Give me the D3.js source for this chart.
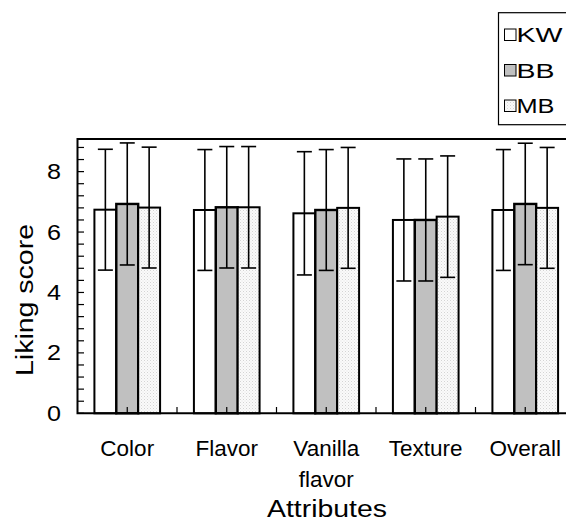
<!DOCTYPE html>
<html>
<head>
<meta charset="utf-8">
<script src="https://cdn.jsdelivr.net/npm/d3@7"></script>
<style>
  body { margin: 0; background: #fff; }
  text { font-family: Arial, "Liberation Sans", sans-serif; fill: #000; }
</style>
</head>
<body>
<div class="chart-container"></div>
<script>
const attributes = ["Color", "Flavor", "Vanilla flavor", "Texture", "Overall"];
const samples = ["KW", "BB", "MB"];
const meanKW = [6.74, 6.73, 6.62, 6.40, 6.73];
const meanBB = [6.93, 6.82, 6.73, 6.40, 6.93];
const meanMB = [6.81, 6.82, 6.80, 6.51, 6.80];
const sdKW = [2.0, 2.0, 2.04, 2.02, 2.0];
const sdBB = [2.02, 2.01, 2.0, 2.02, 2.01];
const sdMB = [2.0, 2.01, 2.0, 2.01, 2.0];
const yTickLabels = [0, 2, 4, 6, 8];

const means = { KW: meanKW, BB: meanBB, MB: meanMB };
const sds = { KW: sdKW, BB: sdBB, MB: sdMB };

const width = 566, height = 524;
const svg = d3.select(".chart-container")
  .append("svg")
  .attr("width", width)
  .attr("height", height);

// light dotted fill for MB
const defs = svg.append("defs");
const pat = defs.append("pattern")
  .attr("id", "dots")
  .attr("width", 3).attr("height", 3)
  .attr("patternUnits", "userSpaceOnUse");
pat.append("rect").attr("width", 3).attr("height", 3).attr("fill", "#fafafa");
pat.append("rect").attr("width", 1).attr("height", 1).attr("fill", "#d4d4d4");
pat.append("rect").attr("x", 1.5).attr("y", 1.5).attr("width", 1).attr("height", 1).attr("fill", "#e2e2e2");

const fills = { KW: "#ffffff", BB: "#c0c0c0", MB: "url(#dots)" };

const x0 = d3.scaleBand()
  .domain(attributes)
  .range([77.5, 575])
  .paddingInner(0.34)
  .paddingOuter(0.17);

const x1 = d3.scaleBand()
  .domain(samples)
  .range([0, x0.bandwidth()]);

const y = d3.scaleLinear()
  .domain([0, 9.08])
  .range([413.3, 139]);

const rows = [];
attributes.forEach((a, i) => {
  samples.forEach(s => rows.push({ attr: a, sample: s, mean: means[s][i], sd: sds[s][i] }));
});

// bars
svg.append("g")
  .selectAll("rect")
  .data(rows)
  .join("rect")
  .attr("x", d => x0(d.attr) + x1(d.sample))
  .attr("y", d => y(d.mean))
  .attr("width", x1.bandwidth())
  .attr("height", d => y(0) - y(d.mean))
  .attr("fill", d => fills[d.sample])
  .attr("stroke", "#000")
  .attr("stroke-width", d => d.sample == "BB" ? 2.4 : 2);

// error bars
const err = svg.append("g").attr("stroke", "#000").attr("stroke-width", 1.6);
const cx = d => x0(d.attr) + x1(d.sample) + x1.bandwidth() / 2;
err.selectAll("line.v")
  .data(rows)
  .join("line")
  .attr("class", "v")
  .attr("x1", cx).attr("x2", cx)
  .attr("y1", d => y(d.mean + d.sd))
  .attr("y2", d => y(d.mean - d.sd));
err.selectAll("line.top")
  .data(rows)
  .join("line")
  .attr("class", "top")
  .attr("x1", d => cx(d) - 7.5).attr("x2", d => cx(d) + 7.5)
  .attr("y1", d => y(d.mean + d.sd)).attr("y2", d => y(d.mean + d.sd));
err.selectAll("line.bot")
  .data(rows)
  .join("line")
  .attr("class", "bot")
  .attr("x1", d => cx(d) - 7.5).attr("x2", d => cx(d) + 7.5)
  .attr("y1", d => y(d.mean - d.sd)).attr("y2", d => y(d.mean - d.sd));

// y axis: inside ticks every 0.4
const minor = d3.range(0, 9.0, 0.4);
svg.append("g")
  .selectAll("line")
  .data(minor)
  .join("line")
  .attr("x1", 77.5).attr("x2", 84)
  .attr("y1", d => y(d)).attr("y2", d => y(d))
  .attr("stroke", "#000").attr("stroke-width", 1.2);

svg.append("g")
  .selectAll("text")
  .data(yTickLabels)
  .join("text")
  .attr("x", 61)
  .attr("y", d => y(d))
  .attr("dy", "0.35em")
  .attr("text-anchor", "end")
  .attr("textLength", 14)
  .attr("lengthAdjust", "spacingAndGlyphs")
  .style("font-size", "21.5px")
  .text(d => d);

// x axis ticks: group centers and boundaries
const xt = [];
attributes.forEach(a => {
  xt.push(x0(a) + x0.bandwidth() / 2);
  xt.push(x0(a) + x0.step() * (1 - 0.17) );
});
svg.append("g")
  .selectAll("line")
  .data(xt)
  .join("line")
  .attr("x1", d => d).attr("x2", d => d)
  .attr("y1", 413.3).attr("y2", 407)
  .attr("stroke", "#000").attr("stroke-width", 1.2);

// frame (left, top, bottom)
svg.append("path")
  .attr("d", `M${x0.range()[1]},${y(9.08)}H77.5V${y(0)}H${x0.range()[1]}`)
  .attr("fill", "none")
  .attr("stroke", "#000")
  .attr("stroke-width", 2);

// category labels
svg.append("g")
  .selectAll("text")
  .data(attributes)
  .join("text")
  .attr("x", d => x0(d) + x0.bandwidth() / 2)
  .attr("y", 456)
  .attr("text-anchor", "middle")
  .style("font-size", "22.5px")
  .each(function (d) {
    const words = d.split(" ");
    words.forEach((w, i) => {
      d3.select(this).append("tspan")
        .attr("x", x0(d) + x0.bandwidth() / 2)
        .attr("dy", i ? 31 : 0)
        .text(w);
    });
  });

// axis titles
svg.append("text")
  .attr("x", 327)
  .attr("y", 516.5)
  .attr("text-anchor", "middle")
  .attr("textLength", 120)
  .attr("lengthAdjust", "spacingAndGlyphs")
  .style("font-size", "23px")
  .text("Attributes");

svg.append("text")
  .attr("transform", "translate(33,300) rotate(-90)")
  .attr("text-anchor", "middle")
  .attr("textLength", 152)
  .attr("lengthAdjust", "spacingAndGlyphs")
  .style("font-size", "23px")
  .text("Liking score");

// legend
const legend = svg.append("g");
legend.append("rect")
  .attr("x", 498.5).attr("y", 12.7)
  .attr("width", 80).attr("height", 112)
  .attr("fill", "#fff")
  .attr("stroke", "#000")
  .attr("stroke-width", 1.2);
const ly = d3.scalePoint().domain(samples).range([35, 106]);
legend.selectAll("rect.sw")
  .data(samples)
  .join("rect")
  .attr("class", "sw")
  .attr("x", 504.5).attr("y", d => ly(d) - 6)
  .attr("width", 11.5).attr("height", 11.5)
  .attr("fill", d => fills[d])
  .attr("stroke", "#000")
  .attr("stroke-width", 1);
legend.selectAll("text")
  .data(samples)
  .join("text")
  .attr("x", 516.5)
  .attr("y", d => ly(d) + 7)
  .attr("textLength", d => d == "KW" ? 46 : 38)
  .attr("lengthAdjust", "spacingAndGlyphs")
  .style("font-size", "20px")
  .text(d => d);
</script>
</body>
</html>
